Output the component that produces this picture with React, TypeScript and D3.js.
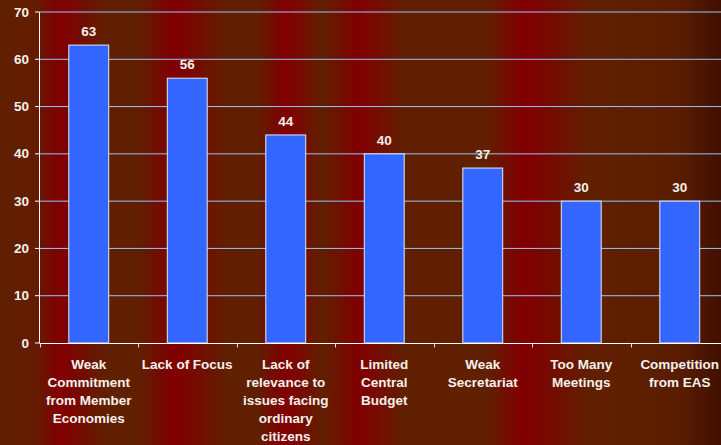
import React from "react";
import * as d3 from "d3";

const categories: string[][] = [
  ["Weak", "Commitment", "from Member", "Economies"],
  ["Lack of Focus"],
  ["Lack of", "relevance to", "issues facing", "ordinary", "citizens"],
  ["Limited", "Central", "Budget"],
  ["Weak", "Secretariat"],
  ["Too Many", "Meetings"],
  ["Competition", "from EAS"],
];
const values: number[] = [63, 56, 44, 40, 37, 30, 30];
const yTicks: number[] = [0, 10, 20, 30, 40, 50, 60, 70];

const W = 721;
const H = 445;

const bgStops: [number, string][] = [
  [0, "#602000"],
  [35, "#641c00"],
  [58, "#800000"],
  [70, "#7c0400"],
  [106, "#602000"],
  [138, "#602000"],
  [172, "#800000"],
  [186, "#7c0400"],
  [228, "#602000"],
  [256, "#602000"],
  [283, "#800000"],
  [296, "#7c0600"],
  [322, "#602000"],
  [358, "#800000"],
  [368, "#7c0600"],
  [405, "#602000"],
  [487, "#602000"],
  [520, "#800000"],
  [538, "#7c0400"],
  [590, "#602000"],
  [680, "#5a1c00"],
  [721, "#401000"],
];

export default function App() {
  const keys = categories.map((_, i) => String(i));
  const x = d3.scaleBand<string>().domain(keys).range([39.5, 729]).paddingInner(0.595).paddingOuter(0.2975);
  const xOuter = d3.scaleBand<string>().domain(keys).range([39.5, 729]);
  const y = d3.scaleLinear().domain([0, 70]).range([343, 12]);
  const font = "'Liberation Sans', Arial, sans-serif";
  const fs = 13.5;

  return (
    <svg width={W} height={H} style={{ position: "absolute", left: 0, top: 0 }}>
      <defs>
        <linearGradient id="bg" gradientUnits="userSpaceOnUse" x1={0} y1={0} x2={W} y2={0}>
          {bgStops.map(([p, c], i) => (
            <stop key={i} offset={p / W} stopColor={c} />
          ))}
        </linearGradient>
      </defs>
      <rect x={0} y={0} width={W} height={H} fill="url(#bg)" />
      {yTicks.filter((t) => t > 0).map((t) => (
        <line key={t} x1={39.5} x2={W} y1={y(t)} y2={y(t)} stroke="#99c4f4" strokeWidth={1} />
      ))}
      {values.map((v, i) => (
        <rect
          key={i}
          x={x(String(i))!}
          y={y(v)}
          width={x.bandwidth()}
          height={y(0) - y(v)}
          fill="#3366ff"
          stroke="#e8e8f0"
          strokeWidth={1}
        />
      ))}
      {values.map((v, i) => (
        <text
          key={i}
          x={x(String(i))! + x.bandwidth() / 2}
          y={y(v) - 9}
          textAnchor="middle"
          fill="#f4f0ec"
          fontFamily={font}
          fontWeight="bold"
          fontSize={fs}
        >
          {v}
        </text>
      ))}
      <line x1={39.5} x2={39.5} y1={12} y2={343} stroke="#ffffff" strokeWidth={1} />
      <line x1={39.5} x2={W} y1={343.5} y2={343.5} stroke="#ffffff" strokeWidth={1} />
      {yTicks.map((t) => (
        <g key={t}>
          <line x1={35} x2={39.5} y1={y(t)} y2={y(t)} stroke="#ffffff" strokeWidth={1} />
          <text
            x={29}
            y={y(t) + 4.5}
            textAnchor="end"
            fill="#f4f0ec"
            fontFamily={font}
            fontWeight="bold"
            fontSize={fs}
          >
            {t}
          </text>
        </g>
      ))}
      {keys.map((k) => (
        <line
          key={k}
          x1={Math.round(xOuter(k)!) + 0.5}
          x2={Math.round(xOuter(k)!) + 0.5}
          y1={343}
          y2={347.5}
          stroke="#e0e0e0"
          strokeWidth={1}
        />
      ))}
      {categories.map((lines, i) => (
        <text
          key={i}
          x={xOuter(String(i))! + xOuter.bandwidth() / 2}
          y={369}
          textAnchor="middle"
          fill="#f4f0ec"
          fontFamily={font}
          fontWeight="bold"
          fontSize={fs}
        >
          {lines.map((l, j) => (
            <tspan key={j} x={xOuter(String(i))! + xOuter.bandwidth() / 2} dy={j === 0 ? 0 : 18}>
              {l}
            </tspan>
          ))}
        </text>
      ))}
    </svg>
  );
}
